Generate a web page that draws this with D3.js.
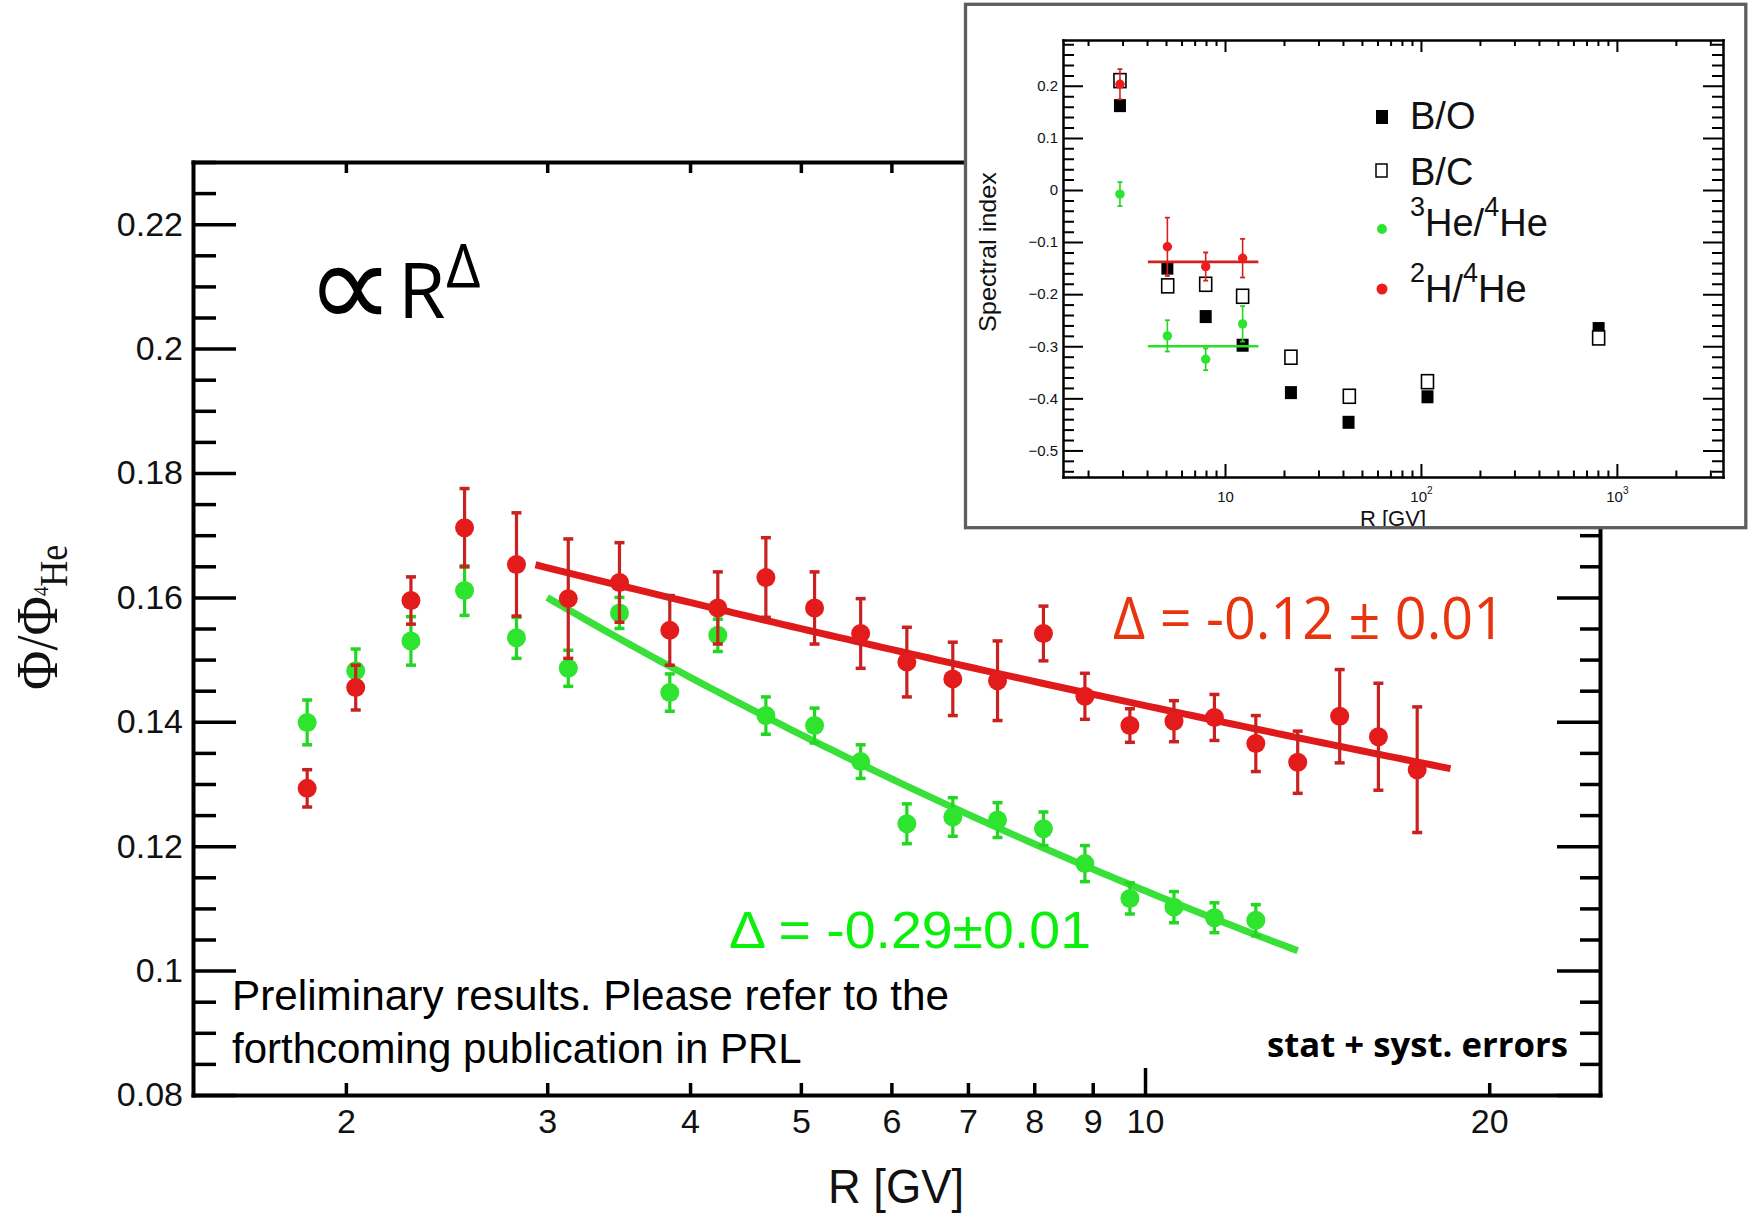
<!DOCTYPE html>
<html>
<head>
<meta charset="utf-8">
<script src="https://cdn.jsdelivr.net/npm/d3@7"></script>
<style>
  html, body { margin: 0; padding: 0; background: #fff; }
  svg { display: block; }
</style>
</head>
<body>
<svg id="chart" width="1754" height="1213"></svg>
<script>
// ---------- main panel: isotope flux ratios vs rigidity ----------
// rigidity bin centres (GV)
const rigidity = [1.85, 2.04, 2.28, 2.54, 2.82, 3.13, 3.47, 3.84, 4.23, 4.66, 5.14, 5.64, 6.19,
                  6.79, 7.43, 8.15, 8.86, 9.70, 10.6, 11.5, 12.5, 13.6, 14.8, 16.0, 17.3];
// 3He/4He (first 21 bins)
const he3Ratio = [0.1399, 0.1482, 0.1530, 0.1611, 0.1535, 0.1486, 0.1575, 0.1447, 0.1539, 0.1410, 0.1394,
                  0.1336, 0.1236, 0.1247, 0.1242, 0.1228, 0.1172, 0.1116, 0.1102, 0.1085, 0.1081];
const he3Error = [0.0036, 0.0035, 0.0039, 0.0040, 0.0033, 0.0029, 0.0025, 0.0030, 0.0026, 0.0030, 0.0028,
                  0.0027, 0.0032, 0.0031, 0.0028, 0.0027, 0.0029, 0.0025, 0.0025, 0.0024, 0.0025];
// 2H/4He (all 25 bins)
const h2Ratio = [0.1293, 0.1455, 0.1595, 0.1712, 0.1653, 0.1598, 0.1624, 0.1547, 0.1583, 0.1632, 0.1583,
                 0.1542, 0.1496, 0.1469, 0.1466, 0.1542, 0.1441, 0.1394, 0.1401, 0.1407, 0.1365, 0.1335,
                 0.1409, 0.1376, 0.1323];
const h2Error = [0.0030, 0.0036, 0.0038, 0.0063, 0.0083, 0.0096, 0.0064, 0.0056, 0.0058, 0.0064, 0.0058,
                 0.0056, 0.0056, 0.0059, 0.0064, 0.0044, 0.0037, 0.0027, 0.0033, 0.0037, 0.0045, 0.0050,
                 0.0075, 0.0086, 0.0101];

// power-law fits  Φ ∝ R^Δ   (index 0: 2H/4He, index 1: 3He/4He)
const fitDelta = [-0.12, -0.29];
const fitNorm  = [0.188, 0.220];
const fitFrom  = [2.93, 3.0];
const fitTo    = [18.5, 13.6];

// axis ticks
const xTickValues = [2, 3, 4, 5, 6, 7, 8, 9, 10, 20];
const yTickValues = [0.08, 0.10, 0.12, 0.14, 0.16, 0.18, 0.20, 0.22];
const yTickLabels = ["0.08", "0.1", "0.12", "0.14", "0.16", "0.18", "0.2", "0.22"];

// ---------- inset: spectral indices ----------
const insetIsoR   = [2.91, 5.08, 7.97, 12.3];
const insetHe3    = [-0.008, -0.280, -0.325, -0.257];
const insetHe3Err = [0.023, 0.030, 0.021, 0.034];
const insetH2     = [0.203, -0.109, -0.147, -0.131];
const insetH2Err  = [0.029, 0.056, 0.027, 0.037];
const insetBOR    = [2.91, 5.08, 7.97, 12.3, 21.7, 42.7, 108, 807];
const insetBO     = [0.162, -0.150, -0.243, -0.298, -0.389, -0.446, -0.397, -0.266];
const insetBCR    = [2.91, 5.10, 7.97, 12.3, 21.7, 43.1, 108, 807];
const insetBC     = [0.210, -0.184, -0.181, -0.204, -0.321, -0.396, -0.368, -0.284];
const insetFitLevel = [-0.138, -0.300];   // 2H/4He, 3He/4He
const insetFitRange = [4.04, 14.8];
const insetYTicks = [-0.5, -0.4, -0.3, -0.2, -0.1, 0, 0.1, 0.2];
const insetYLabels = ["\u22120.5", "\u22120.4", "\u22120.3", "\u22120.2", "\u22120.1", "0", "0.1", "0.2"];
const insetXTicks = [10, 100, 1000];
const insetXExp = ["", "2", "3"];

// ---------- colours ----------
const RED = "#e31b1b", RED_BAR = "#c92020", RED_FIT = "#e01a1a";
const GREEN = "#2ee42e", GREEN_BAR = "#22d622", GREEN_FIT = "#3ae03a";

const svg = d3.select("#chart");
svg.append("rect").attr("width", 1754).attr("height", 1213).attr("fill", "#fff");

const M = { left: 193, right: 1600, top: 162, bottom: 1095 };
const x = d3.scaleLog().domain([1.47, 25]).range([M.left, M.right]);
const y = d3.scaleLinear().domain([0.08, 0.23]).range([M.bottom, M.top]);

const yMinor = d3.range(0.08, 0.2301, 0.005).filter(v => Math.abs(Math.round(v / 0.02) * 0.02 - v) > 1e-6);

function styleAxis(g, domainW, tickW) {
  g.select(".domain").attr("stroke", "#000").attr("stroke-width", domainW).attr("stroke-linecap", "square");
  g.selectAll(".tick line").attr("stroke", "#000").attr("stroke-width", tickW);
  g.selectAll(".tick text").attr("fill", "#111");
}

// main frame axes
const axFont = "'Liberation Sans', Arial, sans-serif";

const gxTop = svg.append("g").attr("transform", `translate(0,${M.top})`)
  .call(d3.axisTop(x).tickValues(xTickValues).tickFormat("").tickSize(-11).tickSizeOuter(0));
styleAxis(gxTop, 4, 3.5);

const gyRight = svg.append("g").attr("transform", `translate(${M.right},0)`)
  .call(d3.axisRight(y).tickValues(yTickValues).tickFormat("").tickSize(-43).tickSizeOuter(0));
styleAxis(gyRight, 4, 3.5);
const gyRightMinor = svg.append("g").attr("transform", `translate(${M.right},0)`)
  .call(d3.axisRight(y).tickValues(yMinor).tickFormat("").tickSize(-20).tickSizeOuter(0));
gyRightMinor.select(".domain").remove();
styleAxis(gyRightMinor, 0, 3.5);

const gx = svg.append("g").attr("transform", `translate(0,${M.bottom})`)
  .call(d3.axisBottom(x).tickValues(xTickValues).tickFormat(d => String(d))
    .tickSize(-12).tickSizeOuter(0).tickPadding(14));
styleAxis(gx, 4, 3.5);
gx.selectAll(".tick line").filter(d => d === 10).attr("y2", -27);
gx.selectAll(".tick text").attr("font-family", axFont).attr("font-size", 34);

const gy = svg.append("g").attr("transform", `translate(${M.left},0)`)
  .call(d3.axisLeft(y).tickValues(yTickValues).tickFormat((d, i) => yTickLabels[i])
    .tickSize(-43).tickSizeOuter(0).tickPadding(10));
styleAxis(gy, 4, 3.5);
gy.selectAll(".tick text").attr("font-family", axFont).attr("font-size", 34);
const gyMinor = svg.append("g").attr("transform", `translate(${M.left},0)`)
  .call(d3.axisLeft(y).tickValues(yMinor).tickFormat("").tickSize(-23).tickSizeOuter(0));
gyMinor.select(".domain").remove();
styleAxis(gyMinor, 0, 3.5);

// axis titles
svg.append("text").attr("x", 896).attr("y", 1203).attr("text-anchor", "middle")
  .attr("font-family", axFont).attr("font-size", 48).attr("fill", "#111")
  .attr("textLength", 136).attr("lengthAdjust", "spacingAndGlyphs")
  .text("R [GV]");

const yTitle = svg.append("text")
  .attr("transform", "translate(57,690) rotate(-90) scale(0.9,1)")
  .attr("font-family", "'Liberation Serif', 'Times New Roman', serif").attr("fill", "#111");
yTitle.append("tspan").attr("font-size", 60).text("Φ/Φ");
yTitle.append("tspan").attr("font-size", 21).attr("dy", -9).text("4");
yTitle.append("tspan").attr("font-size", 40).attr("dy", 19).text("He");

// ---------- fits ----------
const fitLine = d3.line().x(d => x(d[0])).y(d => y(d[1]));
[0, 1].forEach(k => {
  const pts = d3.range(0, 101).map(i => {
    const r = fitFrom[k] * Math.pow(fitTo[k] / fitFrom[k], i / 100);
    return [r, fitNorm[k] * Math.pow(r, fitDelta[k])];
  });
  svg.append("path").datum(pts).attr("d", fitLine)
    .attr("fill", "none").attr("stroke", k === 0 ? RED_FIT : GREEN_FIT)
    .attr("stroke-width", 7).attr("stroke-linecap", "butt");
});

// ---------- data points with error bars ----------
function drawSeries(vals, errs, fill, barColor) {
  const data = vals.map((v, i) => ({ r: rigidity[i], v, e: errs[i] }));
  const g = svg.append("g");
  const bars = g.selectAll("g.pt").data(data).join("g").attr("class", "pt");
  bars.append("line")
    .attr("x1", d => x(d.r)).attr("x2", d => x(d.r))
    .attr("y1", d => y(d.v + d.e)).attr("y2", d => y(d.v - d.e))
    .attr("stroke", barColor).attr("stroke-width", 3.2);
  [1, -1].forEach(s => {
    bars.append("line")
      .attr("x1", d => x(d.r) - 5).attr("x2", d => x(d.r) + 5)
      .attr("y1", d => y(d.v + s * d.e)).attr("y2", d => y(d.v + s * d.e))
      .attr("stroke", barColor).attr("stroke-width", 3.5);
  });
  bars.append("circle")
    .attr("cx", d => x(d.r)).attr("cy", d => y(d.v)).attr("r", 9.5)
    .attr("fill", fill);
}
drawSeries(he3Ratio, he3Error, GREEN, GREEN_BAR);
drawSeries(h2Ratio, h2Error, RED, RED_BAR);

// ---------- annotations ----------
const calFont = "'Open Sans', 'Noto Sans', sans-serif";
svg.append("text").attr("x", 306).attr("y", 328)
  .attr("font-family", "'DejaVu Sans', sans-serif").attr("font-size", 124).attr("fill", "#000").text("∝");
svg.append("text").attr("x", 398).attr("y", 318)
  .attr("font-family", calFont).attr("font-size", 77).attr("fill", "#000").text("R");
svg.append("text").attr("x", 446).attr("y", 287)
  .attr("font-family", calFont).attr("font-size", 60).attr("fill", "#000").text("Δ");

svg.append("text").attr("x", 1113).attr("y", 639)
  .attr("font-family", calFont).attr("font-size", 58).attr("fill", "#e8340f")
  .attr("textLength", 392).attr("lengthAdjust", "spacingAndGlyphs")
  .text("Δ = -0.12 ± 0.01");

svg.append("text").attr("x", 729).attr("y", 948)
  .attr("font-family", axFont).attr("font-size", 51).attr("fill", "#0af00a")
  .attr("textLength", 362).attr("lengthAdjust", "spacingAndGlyphs")
  .text("Δ = -0.29±0.01");

svg.append("text").attr("x", 232).attr("y", 1010)
  .attr("font-family", axFont).attr("font-size", 42).attr("fill", "#000")
  .attr("textLength", 717).attr("lengthAdjust", "spacingAndGlyphs")
  .text("Preliminary results. Please refer to the");
svg.append("text").attr("x", 232).attr("y", 1063)
  .attr("font-family", axFont).attr("font-size", 42).attr("fill", "#000")
  .text("forthcoming publication in PRL");

svg.append("text").attr("x", 1267).attr("y", 1057)
  .attr("font-family", calFont).attr("font-weight", 700).attr("font-size", 34).attr("fill", "#000")
  .attr("textLength", 301).attr("lengthAdjust", "spacingAndGlyphs")
  .text("stat + syst. errors");

// ---------- inset ----------
const F = { x: 965.5, y: 4.3, w: 780.3, h: 523.4 };
svg.append("rect").attr("x", F.x).attr("y", F.y).attr("width", F.w).attr("height", F.h).attr("fill", "#fff");
svg.append("clipPath").attr("id", "insetClip")
  .append("rect").attr("x", F.x + 1.6).attr("y", F.y + 1.6).attr("width", F.w - 3.2).attr("height", F.h - 3.2);
const inset = svg.append("g").attr("clip-path", "url(#insetClip)");

const I = { left: 1063, right: 1723, top: 40, bottom: 477 };
const xi = d3.scaleLog().domain([1.49, 3480]).range([I.left, I.right]);
const yi = d3.scaleLinear().domain([-0.551, 0.288]).range([I.bottom, I.top]);
const xiMinor = [];
[1, 10, 100, 1000].forEach(dec => [2, 3, 4, 5, 6, 7, 8, 9].forEach(m => {
  const v = m * dec; if (v > 1.49 && v < 3480) xiMinor.push(v);
}));
const yiMinor = d3.range(-0.54, 0.2801, 0.02).filter(v => Math.abs(Math.round(v * 10) / 10 - v) > 1e-6);

const inFont = "'Liberation Sans', Arial, sans-serif";
function insetAxis(axisFn, tr, values, size, domainW) {
  const g = inset.append("g").attr("transform", tr)
    .call(axisFn.tickValues(values).tickFormat("").tickSize(size).tickSizeOuter(0));
  if (domainW) styleAxis(g, domainW, 2); else { g.select(".domain").remove(); styleAxis(g, 0, 2); }
  return g;
}
insetAxis(d3.axisTop(xi), `translate(0,${I.top})`, insetXTicks, -12, 2.5);
insetAxis(d3.axisTop(xi), `translate(0,${I.top})`, xiMinor, -6, 0);
insetAxis(d3.axisRight(yi), `translate(${I.right},0)`, insetYTicks, -20, 2.5);
insetAxis(d3.axisRight(yi), `translate(${I.right},0)`, yiMinor, -11, 0);
insetAxis(d3.axisBottom(xi), `translate(0,${I.bottom})`, xiMinor, -6.5, 0);
insetAxis(d3.axisLeft(yi), `translate(${I.left},0)`, yiMinor, -11, 0);

const gxi = inset.append("g").attr("transform", `translate(0,${I.bottom})`)
  .call(d3.axisBottom(xi).tickValues(insetXTicks).tickFormat("").tickSize(-13).tickSizeOuter(0).tickPadding(14));
styleAxis(gxi, 2.5, 2);
gxi.selectAll(".tick text").each(function (d, i) {
  const t = d3.select(this).attr("font-family", inFont).attr("font-size", 15).attr("fill", "#111");
  t.append("tspan").text("10");
  if (insetXExp[i]) t.append("tspan").attr("font-size", 10).attr("dy", "-0.75em").text(insetXExp[i]);
});

const gyi = inset.append("g").attr("transform", `translate(${I.left},0)`)
  .call(d3.axisLeft(yi).tickValues(insetYTicks).tickFormat((d, i) => insetYLabels[i])
    .tickSize(-20).tickSizeOuter(0).tickPadding(5));
styleAxis(gyi, 2.5, 2);
gyi.selectAll(".tick text").attr("font-family", inFont).attr("font-size", 15);

inset.append("text").attr("transform", "translate(996,252) rotate(-90)")
  .attr("text-anchor", "middle").attr("font-family", inFont).attr("font-size", 24).attr("fill", "#111")
  .attr("textLength", 160).attr("lengthAdjust", "spacingAndGlyphs").text("Spectral index");
inset.append("text").attr("x", 1393).attr("y", 526).attr("text-anchor", "middle")
  .attr("font-family", inFont).attr("font-size", 22).attr("fill", "#111").text("R [GV]");

// B/O filled squares, B/C open squares
inset.selectAll("rect.bo").data(insetBOR.map((r, i) => ({ r, v: insetBO[i] }))).join("rect")
  .attr("class", "bo").attr("x", d => xi(d.r) - 6).attr("y", d => yi(d.v) - 6.5)
  .attr("width", 12).attr("height", 13).attr("fill", "#000");
inset.selectAll("rect.bc").data(insetBCR.map((r, i) => ({ r, v: insetBC[i] }))).join("rect")
  .attr("class", "bc").attr("x", d => xi(d.r) - 6).attr("y", d => yi(d.v) - 7)
  .attr("width", 12).attr("height", 14).attr("fill", "#fff").attr("stroke", "#000").attr("stroke-width", 1.6);

// constant fits over the isotope points
[0, 1].forEach(k => {
  inset.append("line")
    .attr("x1", xi(insetFitRange[0])).attr("x2", xi(insetFitRange[1]))
    .attr("y1", yi(insetFitLevel[k])).attr("y2", yi(insetFitLevel[k]))
    .attr("stroke", k === 0 ? "#d42222" : "#28e028").attr("stroke-width", 2.6);
});

function insetSeries(vals, errs, fill, bar) {
  const data = vals.map((v, i) => ({ r: insetIsoR[i], v, e: errs[i] }));
  const g = inset.selectAll(null).data(data).join("g");
  g.append("line").attr("x1", d => xi(d.r)).attr("x2", d => xi(d.r))
    .attr("y1", d => yi(d.v + d.e)).attr("y2", d => yi(d.v - d.e))
    .attr("stroke", bar).attr("stroke-width", 1.6);
  [1, -1].forEach(s => g.append("line")
    .attr("x1", d => xi(d.r) - 2.5).attr("x2", d => xi(d.r) + 2.5)
    .attr("y1", d => yi(d.v + s * d.e)).attr("y2", d => yi(d.v + s * d.e))
    .attr("stroke", bar).attr("stroke-width", 1.8));
  g.append("circle").attr("cx", d => xi(d.r)).attr("cy", d => yi(d.v)).attr("r", 4.7).attr("fill", fill);
}
insetSeries(insetHe3, insetHe3Err, "#2ee42e", "#22d622");
insetSeries(insetH2, insetH2Err, "#ee1c1c", "#d42222");

// legend
const legY = [117, 171, 229, 289];
const legBase = [129, 185, 236, 302];
const lg = inset.append("g");
lg.append("rect").attr("x", 1376).attr("y", legY[0] - 7).attr("width", 12).attr("height", 14).attr("fill", "#000");
lg.append("rect").attr("x", 1376).attr("y", legY[1] - 7).attr("width", 11).attr("height", 13)
  .attr("fill", "#fff").attr("stroke", "#000").attr("stroke-width", 1.5);
lg.append("circle").attr("cx", 1382).attr("cy", legY[2]).attr("r", 5).attr("fill", "#2ee42e");
lg.append("circle").attr("cx", 1382).attr("cy", legY[3]).attr("r", 5.5).attr("fill", "#ee1c1c");

function legText(i, parts) {
  const t = lg.append("text").attr("x", 1410).attr("y", legBase[i])
    .attr("font-family", inFont).attr("font-size", 38).attr("fill", "#111");
  parts.forEach(p => {
    const s = t.append("tspan").text(p.t);
    if (p.sup) s.attr("font-size", 27).attr("dy", -20);
    if (p.down) s.attr("dy", 20);
  });
}
legText(0, [{ t: "B/O" }]);
legText(1, [{ t: "B/C" }]);
legText(2, [{ t: "3", sup: true }, { t: "He/", down: true }, { t: "4", sup: true }, { t: "He", down: true }]);
legText(3, [{ t: "2", sup: true }, { t: "H/", down: true }, { t: "4", sup: true }, { t: "He", down: true }]);

// inset frame on top
svg.append("rect").attr("x", F.x).attr("y", F.y).attr("width", F.w).attr("height", F.h)
  .attr("fill", "none").attr("stroke", "#5e5e5e").attr("stroke-width", 3.3);
</script>
</body>
</html>
